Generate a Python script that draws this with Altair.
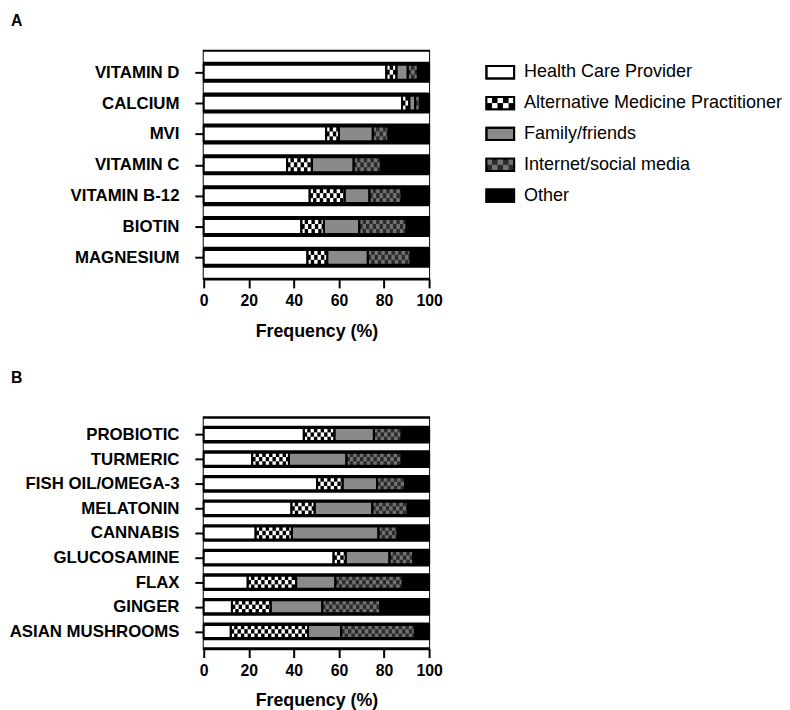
import altair as alt
import pandas as pd

# ---------------- data (percent of respondents) ----------------
series = ["Health Care Provider", "Alternative Medicine Practitioner",
          "Family/friends", "Internet/social media", "Other"]

cats_a = ["VITAMIN D", "CALCIUM", "MVI", "VITAMIN C", "VITAMIN B-12", "BIOTIN", "MAGNESIUM"]
hcp_a = [81.0, 88.0, 54.3, 37.0, 47.0, 43.3, 46.0]
amp_a = [4.5, 3.2, 5.7, 11.0, 15.5, 10.0, 8.8]
fam_a = [5.0, 2.6, 15.0, 18.5, 11.0, 15.7, 18.0]
inet_a = [4.5, 2.2, 7.0, 12.1, 14.3, 21.0, 19.0]
other_a = [5.0, 4.0, 18.0, 21.4, 12.2, 10.0, 8.2]

cats_b = ["PROBIOTIC", "TURMERIC", "FISH OIL/OMEGA-3", "MELATONIN", "CANNABIS",
          "GLUCOSAMINE", "FLAX", "GINGER", "ASIAN MUSHROOMS"]
hcp_b = [44.4, 21.5, 50.3, 38.9, 23.0, 57.6, 19.5, 12.5, 12.0]
amp_b = [13.6, 16.3, 11.3, 10.3, 16.1, 5.4, 21.5, 17.2, 34.3]
fam_b = [17.5, 25.5, 15.3, 25.6, 38.4, 19.4, 17.4, 22.9, 14.7]
inet_b = [12.3, 24.5, 12.4, 15.7, 8.5, 10.6, 29.9, 25.7, 32.7]
other_b = [12.2, 12.2, 10.7, 9.5, 14.0, 7.0, 11.7, 21.7, 6.3]

# ---------------- styling ----------------
FONT = "Liberation Sans"
base_fill = {series[0]: "#ffffff", series[1]: "#000000", series[2]: "#8a8a8a",
             series[3]: "#2a2a2a", series[4]: "#000000"}
check_fill = {series[1]: "#ffffff", series[3]: "#727272"}
CELL_W = 1.5    # checker cell width in % units
ROWS = 3


def build_tables(cats, cols, bar_half, spacer_half):
    segs, cells = [], []
    for i, c in enumerate(cats):
        start = 0.0
        for s, vals in zip(series, cols):
            end = start + vals[i]
            segs.append(dict(cat=c, series=s, x=start, x2=end,
                             y=i - bar_half, y2=i + bar_half))
            if s in check_fill:
                k = 0
                while start + k * CELL_W < end - 0.05:
                    cx = start + k * CELL_W
                    cx2 = min(cx + CELL_W, end)
                    for r in range(ROWS):
                        if (k + r) % 2 == 0:
                            h = 2 * bar_half / ROWS
                            cells.append(dict(series=s, x=cx, x2=cx2,
                                              y=i - bar_half + r * h,
                                              y2=i - bar_half + (r + 1) * h))
                    k += 1
            start = end
    spacers = [dict(x=0, x2=100, y=j - 0.5 - spacer_half, y2=j - 0.5 + spacer_half)
               for j in range(len(cats) + 1)]
    return pd.DataFrame(segs), pd.DataFrame(cells), pd.DataFrame(spacers)


def panel(cats, cols, width, height, bar_half, spacer_half, letter, title_offset):
    n = len(cats)
    segs, cells, spacers = build_tables(cats, cols, bar_half, spacer_half)
    label_expr = "[" + ",".join("'" + c + "'" for c in cats) + "][round(datum.value)]"
    xs = alt.Scale(domain=[0, 100], nice=False, zero=False)
    ys = alt.Scale(domain=[-0.7, n - 0.3], nice=False, zero=False, reverse=True)
    xax = alt.Axis(values=[0, 20, 40, 60, 80, 100], format="d", title="Frequency (%)",
                   grid=False, tickSize=9, tickWidth=2, domainWidth=2,
                   domainColor="black", tickColor="black", labelFontSize=16,
                   labelFontWeight="bold", labelColor="black", labelPadding=5,
                   labelOverlap=False, labelFlush=False,
                   titleFontSize=18, titleFontWeight="bold", titlePadding=14,
                   titleColor="black", labelFont=FONT, titleFont=FONT)
    yax = alt.Axis(values=list(range(n)), labelExpr=label_expr, title=None, grid=False,
                   tickSize=9, tickWidth=2, domainWidth=2, domainColor="black",
                   tickColor="black", labelFontSize=17, labelFontWeight="bold",
                   labelColor="black", labelPadding=16, labelFont=FONT,
                   labelOverlap=False, labelFlush=False, labelSeparation=0)

    def enc(ch):
        return ch.encode(x=alt.X("x:Q", scale=xs, axis=xax), x2="x2:Q",
                         y=alt.Y("y:Q", scale=ys, axis=yax), y2="y2:Q")

    sp = enc(alt.Chart(spacers).mark_rect(fill="white"))
    bars = enc(alt.Chart(segs).mark_rect()).encode(
        fill=alt.Fill("series:N", scale=alt.Scale(domain=series,
                      range=[base_fill[s] for s in series]), legend=None))
    chk = enc(alt.Chart(cells).mark_rect()).encode(
        fill=alt.Fill("series:N", scale=alt.Scale(domain=list(check_fill),
                      range=list(check_fill.values())), legend=None))
    outline = enc(alt.Chart(segs).mark_rect(fillOpacity=0, stroke="black", strokeWidth=2))
    return alt.layer(sp, bars, chk, outline).resolve_scale(fill="independent").properties(
        width=width, height=height,
        view=alt.ViewBackground(fill="black", stroke="black", strokeWidth=2),
        title=alt.TitleParams(letter, anchor="start", frame="group", dx=-195,
                              fontSize=16, fontWeight="bold", font=FONT,
                              color="black", offset=title_offset))


chart_a = panel(cats_a, [hcp_a, amp_a, fam_a, inet_a, other_a], 228, 231, 0.24, 0.16, "A", 22)
chart_b = panel(cats_b, [hcp_b, amp_b, fam_b, inet_b, other_b], 228, 234, 0.265, 0.14, "B", 32)

# ---------------- legend (own chart, aligned with panel A rows) ----------------
LW = 255
leg_sw, leg_cells = [], []
for i, s in enumerate(series):
    leg_sw.append(dict(series=s, x=0, x2=28, y=i - 0.2, y2=i + 0.2, tx=38, ty=i))
    if s in check_fill:
        for k in range(5):
            for r in range(2):
                if (k + r) % 2 == 0:
                    leg_cells.append(dict(series=s, x=k * 5.6, x2=(k + 1) * 5.6,
                                          y=i - 0.2 + r * 0.2, y2=i - 0.2 + (r + 1) * 0.2))
leg_sw = pd.DataFrame(leg_sw)
leg_cells = pd.DataFrame(leg_cells)
lxs = alt.Scale(domain=[0, LW], nice=False, zero=False)
lys = alt.Scale(domain=[-0.7, len(cats_a) - 0.3], nice=False, zero=False, reverse=True)
sw = alt.Chart(leg_sw).mark_rect(stroke="black", strokeWidth=2).encode(
    x=alt.X("x:Q", scale=lxs, axis=None), x2="x2:Q",
    y=alt.Y("y:Q", scale=lys, axis=None), y2="y2:Q",
    fill=alt.Fill("series:N", scale=alt.Scale(domain=series,
                  range=[base_fill[s] for s in series]), legend=None))
swc = alt.Chart(leg_cells).mark_rect().encode(
    x=alt.X("x:Q", scale=lxs, axis=None), x2="x2:Q",
    y=alt.Y("y:Q", scale=lys, axis=None), y2="y2:Q",
    fill=alt.Fill("series:N", scale=alt.Scale(domain=list(check_fill),
                  range=list(check_fill.values())), legend=None))
swo = alt.Chart(leg_sw).mark_rect(fillOpacity=0, stroke="black", strokeWidth=2).encode(
    x=alt.X("x:Q", scale=lxs, axis=None), x2="x2:Q",
    y=alt.Y("y:Q", scale=lys, axis=None), y2="y2:Q")
txt = alt.Chart(leg_sw).mark_text(align="left", baseline="middle", fontSize=18.2,
                                   font=FONT, color="black").encode(
    x=alt.X("tx:Q", scale=lxs, axis=None),
    y=alt.Y("ty:Q", scale=lys, axis=None),
    text="series:N")
legend = alt.layer(sw, swc, swo, txt).resolve_scale(fill="independent").properties(
    width=LW, height=231, view=alt.ViewBackground(stroke=None),
    title=alt.TitleParams(" ", fontSize=16, offset=22))

top = alt.hconcat(chart_a, legend, spacing=42)
chart = alt.vconcat(top, chart_b, spacing=28).properties(
    padding={"left": 0, "top": 0, "right": 0, "bottom": 0}
).configure(font=FONT).configure_view(stroke=None).configure_axis(labelOverlap=False)

chart.save("out.html", embed_options={"renderer": "svg", "actions": False})
